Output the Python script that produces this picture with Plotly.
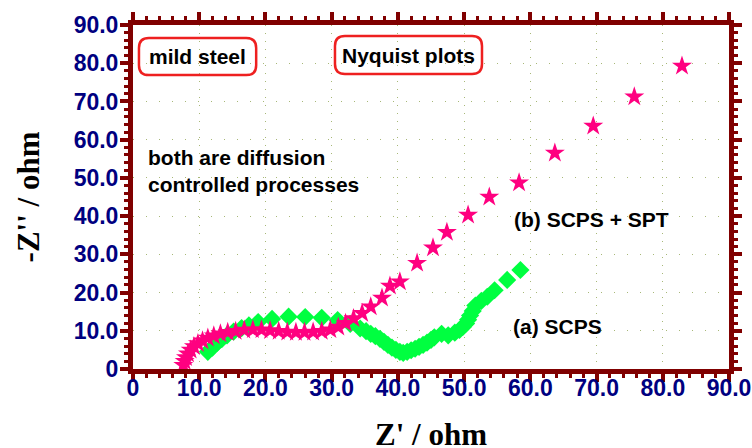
import plotly.graph_objects as go

# ---- data ----
scps_x = [11.3, 12.0, 12.7, 13.4, 14.2, 15.2, 16.4, 17.5, 18.9, 21.0, 23.5, 26.0, 28.5, 30.9, 32.8,
          34.3, 35.2, 35.9, 36.6, 37.3, 37.9, 38.5, 39.1, 39.7, 40.3, 40.8, 41.4, 42.0, 42.6, 43.2,
          43.8, 44.4, 45.0, 45.5, 46.6, 47.6, 48.6, 49.3, 49.8, 50.3, 50.6, 50.9, 51.3, 51.7, 52.6,
          53.5, 54.6, 56.5, 58.5]
scps_y = [4.5, 5.6, 6.8, 7.8, 8.8, 9.8, 10.7, 11.4, 12.3, 13.1, 13.7, 13.6, 13.4, 12.8, 11.8,
          10.6, 9.9, 9.2, 8.6, 7.9, 7.1, 6.3, 5.6, 5.0, 4.5, 4.2, 4.5, 4.9, 5.3, 5.8,
          6.3, 6.9, 7.6, 8.3, 9.2, 8.8, 9.5, 10.2, 11.0, 11.9, 12.9, 14.0, 15.2, 16.6, 17.8,
          18.9, 20.6, 23.3, 25.9]

spt_x = [7.6, 7.8, 8.0, 8.3, 8.7, 9.2, 9.8, 10.5, 11.3, 12.2, 13.2, 14.3, 15.5, 16.8, 18.1,
         19.4, 20.7, 22.0, 23.3, 24.6, 25.9, 27.2, 28.5, 29.8, 31.0, 32.1, 33.3, 34.6, 35.9,
         37.6, 38.8, 40.3, 42.9, 45.3, 47.4, 50.6, 53.8, 58.3, 63.7, 69.5, 75.7, 82.9]
spt_y = [1.0, 2.0, 3.0, 4.0, 5.0, 5.9, 6.7, 7.4, 8.1, 8.7, 9.2, 9.6, 9.9, 10.2, 10.3,
         10.3, 10.1, 9.9, 9.7, 9.6, 9.6, 9.7, 9.9, 10.3, 11.0, 12.0, 13.2, 14.6, 16.3,
         18.6, 21.7, 22.8, 27.7, 31.7, 35.8, 40.3, 45.0, 48.7, 56.5, 63.6, 71.2, 79.3]

tick_vals = [0, 10, 20, 30, 40, 50, 60, 70, 80, 90]
tick_text = ["0", "10.0", "20.0", "30.0", "40.0", "50.0", "60.0", "70.0", "80.0", "90.0"]

frame = "#800000"
tickfont = dict(family="Arial, Liberation Sans", size=23, color="#000080", weight="bold")
titlefont = dict(family="Times New Roman, Liberation Serif", size=31, color="black", weight="bold")
labfont = dict(family="Arial, Liberation Sans", size=21, color="black", weight="bold")

fig = go.Figure()
fig.add_trace(go.Scatter(x=scps_x, y=scps_y, mode="markers", name="(a) SCPS",
                         marker=dict(symbol="diamond", size=14, color="#00FF40", line=dict(width=0))))
fig.add_trace(go.Scatter(x=spt_x, y=spt_y, mode="markers", name="(b) SCPS + SPT",
                         marker=dict(symbol="star", size=15, color="#FF0080", line=dict(width=0))))


def rounded(x0, y0, x1, y1, rx, ry):
    return (f"M {x0+rx},{y0} L {x1-rx},{y0} Q {x1},{y0} {x1},{y0+ry} L {x1},{y1-ry} "
            f"Q {x1},{y1} {x1-rx},{y1} L {x0+rx},{y1} Q {x0},{y1} {x0},{y1-ry} "
            f"L {x0},{y0+ry} Q {x0},{y0} {x0+rx},{y0} Z")


fig.add_shape(type="path", path=rounded(0.9, 76.9, 18.6, 86.6, 1.5, 2.6),
              line=dict(color="#EE2020", width=2.5), xref="x", yref="y")
fig.add_shape(type="path", path=rounded(30.5, 77.2, 52.7, 87.1, 1.5, 2.6),
              line=dict(color="#EE2020", width=2.5), xref="x", yref="y")

fig.add_annotation(x=9.7, y=81.7, text="mild steel", showarrow=False, font=labfont)
fig.add_annotation(x=41.6, y=82.1, text="Nyquist plots", showarrow=False, font=labfont)
fig.add_annotation(x=2.0, y=51.8, text="both are diffusion<br>controlled processes", showarrow=False,
                   font=labfont, xanchor="left", align="left")
fig.add_annotation(x=57.3, y=39.0, text="(b) SCPS + SPT", showarrow=False, font=labfont, xanchor="left")
fig.add_annotation(x=57.1, y=11.0, text="(a) SCPS", showarrow=False, font=labfont, xanchor="left")
# x-axis title
fig.add_annotation(x=0.5, y=-0.19, xref="paper", yref="paper", text="Z' / ohm", showarrow=False,
                   font=titlefont, xanchor="center", yanchor="middle")

axis_common = dict(
    range=[0, 90], tickvals=tick_vals, ticktext=tick_text, tickfont=tickfont,
    showline=True, linecolor=frame, linewidth=5, mirror="allticks",
    ticks="outside", ticklen=8, tickwidth=4, tickcolor=frame,
    minor=dict(dtick=2, ticks="outside", ticklen=4, tickwidth=3, tickcolor=frame, showgrid=False),
    showgrid=True, gridcolor="#a8b878", gridwidth=1, zeroline=False, automargin=False,
)

fig.update_xaxes(**axis_common, griddash="1px,7px", ticklabelstandoff=-14)
fig.update_yaxes(**axis_common, griddash="1px,12px", ticklabelstandoff=-3,
                 title=dict(text="-Z'' / ohm", font=titlefont, standoff=26))

fig.update_layout(
    width=752, height=448,
    margin=dict(l=133, r=23, t=25, b=79),
    plot_bgcolor="white", paper_bgcolor="white",
    showlegend=False,
)

fig.write_html("out.html", config={"displayModeBar": False},
               post_script="document.body.style.margin='0px';")
